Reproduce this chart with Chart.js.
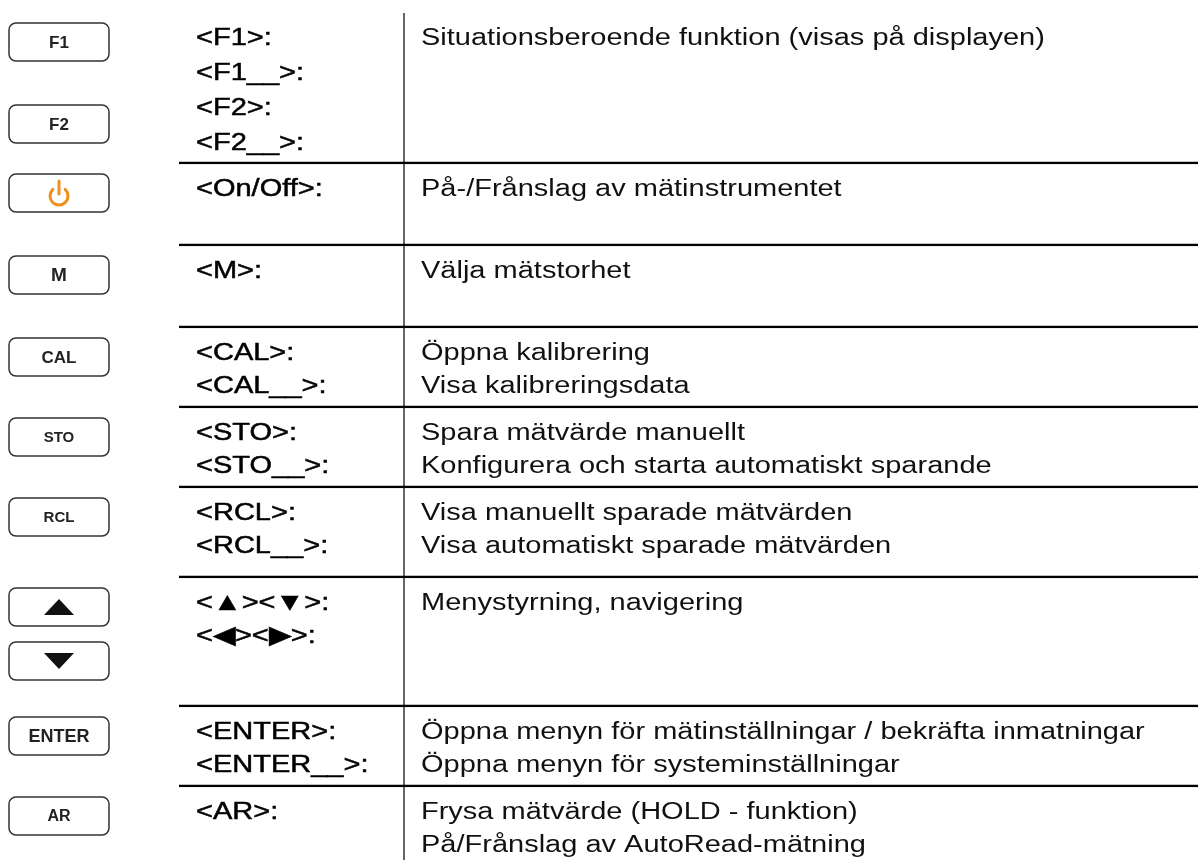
<!DOCTYPE html>
<html>
<head>
<meta charset="utf-8">
<script src="https://cdn.jsdelivr.net/npm/chart.js@4/dist/chart.umd.min.js"></script>
<style>
  html, body { margin: 0; padding: 0; background: #fff; }
  #wrap { width: 1199px; height: 860px; }
</style>
</head>
<body>
<div id="wrap"><canvas id="chart" width="1199" height="860"></canvas></div>
<script>
// rows of the key table
const keyButtons = [["F1", "F2"], ["power"], ["M"], ["CAL"], ["STO"], ["RCL"], ["up", "down"], ["ENTER"], ["AR"]];
const keyNames = [
  ["<F1>:", "<F1__>:", "<F2>:", "<F2__>:"],
  ["<On/Off>:"],
  ["<M>:"],
  ["<CAL>:", "<CAL__>:"],
  ["<STO>:", "<STO__>:"],
  ["<RCL>:", "<RCL__>:"],
  ["<\u25B2><\u25BC>:", "<\u25C0><\u25B6>:"],
  ["<ENTER>:", "<ENTER__>:"],
  ["<AR>:"]
];
const descriptions = [
  ["Situationsberoende funktion (visas på displayen)"],
  ["På-/Frånslag av mätinstrumentet"],
  ["Välja mätstorhet"],
  ["Öppna kalibrering", "Visa kalibreringsdata"],
  ["Spara mätvärde manuellt", "Konfigurera och starta automatiskt sparande"],
  ["Visa manuellt sparade mätvärden", "Visa automatiskt sparade mätvärden"],
  ["Menystyrning, navigering"],
  ["Öppna menyn för mätinställningar / bekräfta inmatningar", "Öppna menyn för systeminställningar"],
  ["Frysa mätvärde (HOLD - funktion)", "På/Frånslag av AutoRead-mätning"]
];
const rowHeights = [151, 82, 82, 80, 80, 90, 129, 80, 73];

const rowStart = [];
let acc = 0;
rowHeights.forEach(h => { rowStart.push(acc); acc += h; });
const total = acc;

const btnFont = { F1: 17, F2: 17, M: 19, CAL: 17, STO: 15, RCL: 15, ENTER: 18, AR: 16 };
const FONT = "'Liberation Sans', Arial, sans-serif";

function drawButton(ctx, name, top) {
  const x = 9, w = 100, h = 38, cx = x + w / 2, cy = top + h / 2;
  ctx.save();
  ctx.beginPath();
  ctx.roundRect(x, top, w, h, 7);
  ctx.fillStyle = "#fff";
  ctx.fill();
  ctx.lineWidth = 1.5;
  ctx.strokeStyle = "#333";
  ctx.stroke();

  if (name === "power") {
    ctx.strokeStyle = "#F0901E";
    ctx.lineWidth = 3;
    ctx.lineCap = "round";
    ctx.beginPath();
    ctx.arc(cx, cy + 3, 9, -Math.PI / 2 + 0.75, Math.PI * 1.5 - 0.75);
    ctx.stroke();
    ctx.beginPath();
    ctx.moveTo(cx, cy - 12);
    ctx.lineTo(cx, cy + 1);
    ctx.stroke();
  } else if (name === "up" || name === "down") {
    ctx.fillStyle = "#111";
    ctx.beginPath();
    if (name === "up") {
      ctx.moveTo(cx - 15, cy + 8);
      ctx.lineTo(cx + 15, cy + 8);
      ctx.lineTo(cx, cy - 8);
    } else {
      ctx.moveTo(cx - 15, cy - 8);
      ctx.lineTo(cx + 15, cy - 8);
      ctx.lineTo(cx, cy + 8);
    }
    ctx.closePath();
    ctx.fill();
  } else {
    ctx.fillStyle = "#222";
    ctx.font = "bold " + btnFont[name] + "px " + FONT;
    ctx.textAlign = "center";
    ctx.textBaseline = "middle";
    ctx.fillText(name, cx, cy + 1);
  }
  ctx.restore();
}

// text in the picture is a little squat compared to Arial
function squatText(ctx, t, x, y, stroke) {
  ctx.save();
  ctx.translate(x, y);
  ctx.scale(1, 0.85);
  ctx.fillText(t, 0, 0);
  if (stroke) ctx.strokeText(t, 0, 0);
  ctx.restore();
}

const tablePlugin = {
  id: "keyTable",
  afterDatasetsDraw(chart) {
    const ctx = chart.ctx;
    const y = chart.scales.y;
    const area = chart.chartArea;
    const divX = area.left + 225;

    ctx.save();
    ctx.strokeStyle = "#000";
    ctx.lineWidth = 1.2;
    ctx.beginPath();
    ctx.moveTo(divX, area.top);
    ctx.lineTo(divX, area.bottom);
    ctx.stroke();

    rowHeights.forEach((h, i) => {
      const top = y.getPixelForValue(rowStart[i]);
      const four = keyNames[i].length > 2;
      const gap = four ? 35 : 33;
      const base = top + 32;

      // buttons on the left
      const btnGap = four ? 82 : 54;
      keyButtons[i].forEach((b, j) => drawButton(ctx, b, top + 10 + j * btnGap));

      ctx.textAlign = "left";
      ctx.textBaseline = "alphabetic";
      ctx.fillStyle = "#000";
      ctx.strokeStyle = "#000";
      ctx.font = "29px " + FONT;
      ctx.lineWidth = 0.6;
      keyNames[i].forEach((t, j) => squatText(ctx, t, area.left + 17, base + j * gap, true));

      ctx.font = "29px " + FONT;
      ctx.fillStyle = "#111";
      descriptions[i].forEach((t, j) => squatText(ctx, t, divX + 17, base + j * gap, false));
    });
    ctx.restore();
  }
};

const datasets = rowHeights.map((h, i) => ({
  label: "rad " + (i + 1),
  data: [[rowStart[i], rowStart[i] + h]],
  backgroundColor: "rgba(0,0,0,0)",
  borderColor: "#000",
  borderWidth: { top: 0, left: 0, right: 0, bottom: i < rowHeights.length - 1 ? 2 : 0 },
  borderSkipped: false,
  grouped: false,
  barPercentage: 1,
  categoryPercentage: 1
}));

new Chart(document.getElementById("chart"), {
  type: "bar",
  data: { labels: ["tangenter"], datasets: datasets },
  options: {
    responsive: false,
    animation: false,
    layout: { padding: { left: 179, right: 1, top: 13, bottom: 0 } },
    plugins: { legend: { display: false }, tooltip: { enabled: false } },
    scales: {
      x: { display: false },
      y: { display: false, reverse: true, min: 0, max: total }
    }
  },
  plugins: [tablePlugin]
});
</script>
</body>
</html>
